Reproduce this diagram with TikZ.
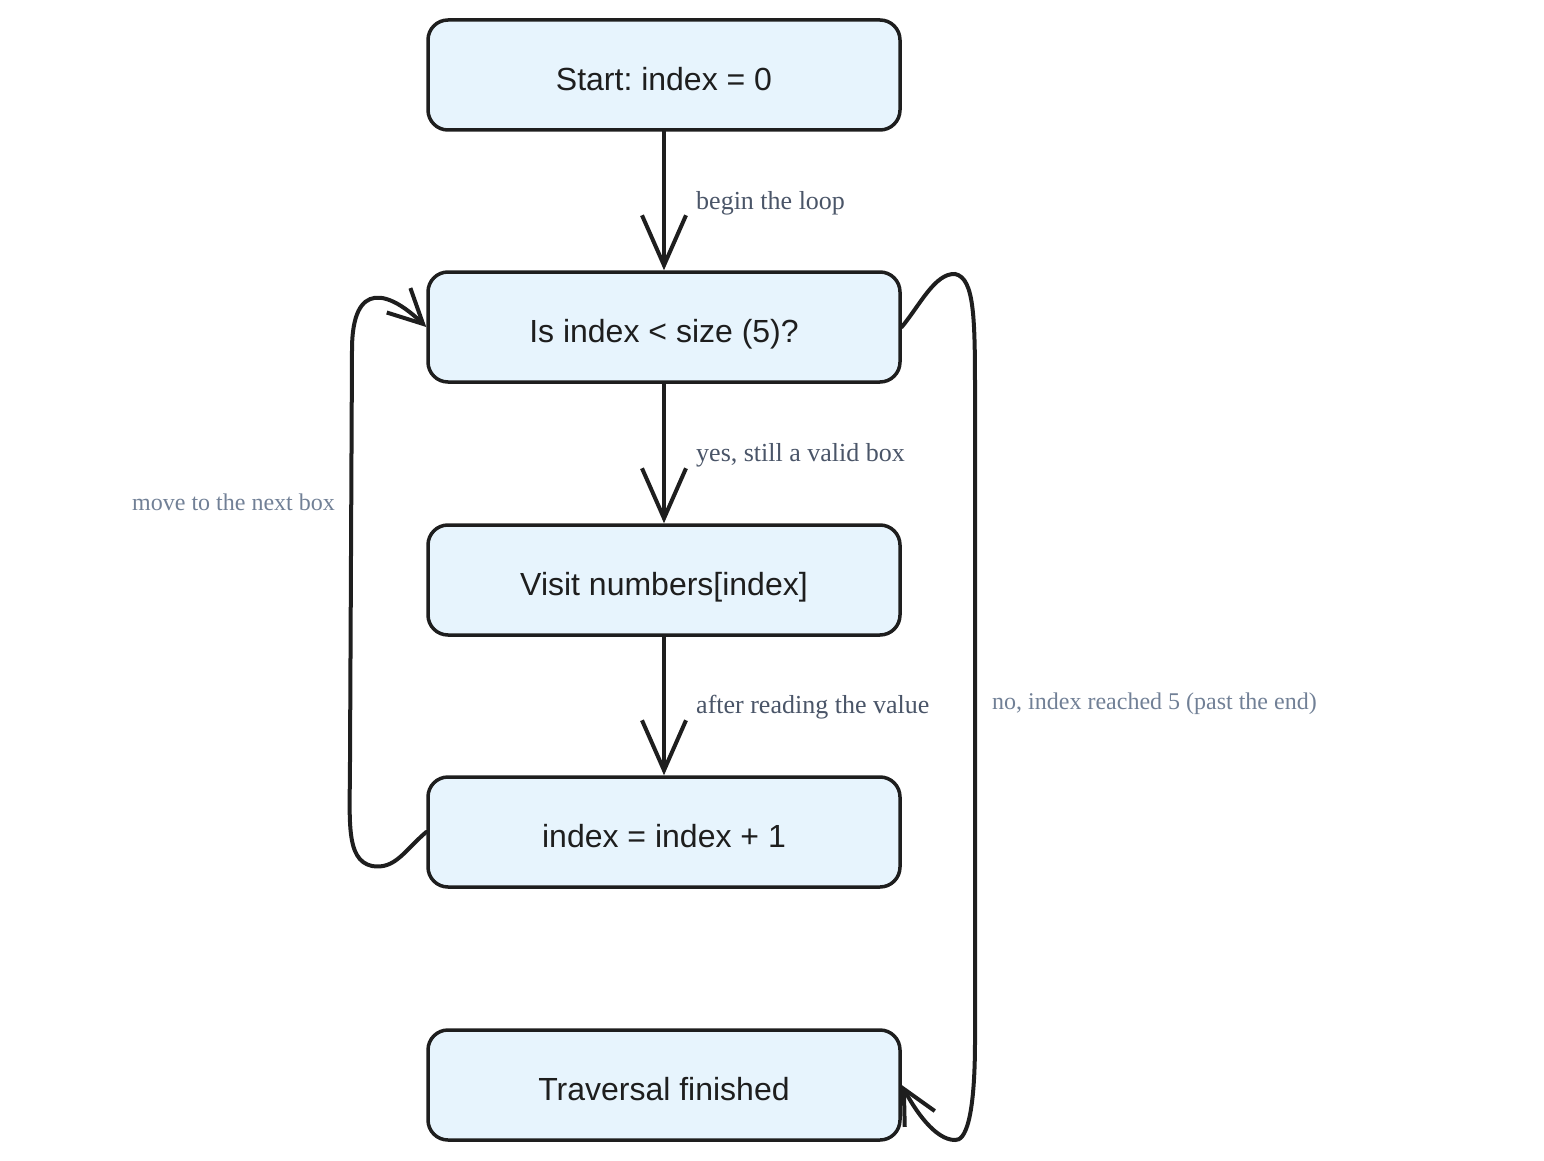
\documentclass[tikz,border=0pt]{standalone}
\usepackage{fontspec}
\setmainfont{Liberation Serif}
\newfontfamily\boxfont{Liberation Sans}
\usetikzlibrary{arrows.meta}
\frenchspacing
\definecolor{boxfill}{HTML}{E7F4FD}
\definecolor{ink}{HTML}{1E1E1E}
\definecolor{labdark}{HTML}{4A5568}
\definecolor{lablight}{HTML}{718096}
\tikzset{
  stepbox/.style={draw=ink, fill=boxfill, line width=3.5pt, rounded corners=20pt,
    minimum width=472pt, minimum height=110pt, inner sep=0pt,
    text height=31pt, text depth=0pt,
    font=\boxfont\fontsize{32}{38}\selectfont, text=ink},
  conn/.style={draw=ink, line width=4pt, line cap=round,
    -{Straight Barb[length=50pt,width=44pt,line width=4pt]}},
  loopconn/.style={draw=ink, line width=4pt, line cap=round,
    -{Straight Barb[length=34pt,width=34pt,line width=4pt]}},
  labd/.style={font=\fontsize{26}{31}\selectfont, text=labdark, inner sep=0pt},
  labl/.style={font=\fontsize{24}{29}\selectfont, text=lablight, inner sep=0pt}
}
\begin{document}
\frenchspacing
\begin{tikzpicture}[x=1pt,y=-1pt]
\useasboundingbox (0,0) rectangle (1544,1161);
\node[stepbox] (b1) at (664,75) {Start: index = 0};
\node[stepbox] (b2) at (664,327) {Is index < size (5)?};
\node[stepbox] (b3) at (664,580) {Visit numbers[index]};
\node[stepbox] (b4) at (664,832) {index = index + 1};
\node[stepbox] (b5) at (664,1085) {Traversal finished};

\draw[conn] (b1.south) -- (b2.north);
\draw[conn] (b2.south) -- (b3.north);
\draw[conn] (b3.south) -- (b4.north);

\node[labd, anchor=west] (l1) at (696,203) {begin the loop};
\node[labd, anchor=west] (l2) at (696,455) {yes, still a valid box};
\node[labd, anchor=west] (l3) at (696,707) {after reading the value};

\draw[loopconn] (b4.west) .. controls (405,850) and (395,870) .. (372,866)
  .. controls (345,860) and (350,820) .. (350,760) -- (352,350)
  .. controls (352,278) and (390,292) .. (b2.west);
\node[labl, anchor=east] (l4) at (335,502) {move to the next box};

\draw[loopconn] (b2.east) .. controls (920,305) and (935,273) .. (955,274)
  .. controls (975,278) and (975,320) .. (975,400) -- (975,1040)
  .. controls (975,1120) and (965,1141) .. (955,1140)
  .. controls (935,1140) and (915,1110) .. (b5.east);
\node[labl, anchor=west] (l5) at (992,704) {no, index reached 5 (past the end)};
\end{tikzpicture}
\end{document}
